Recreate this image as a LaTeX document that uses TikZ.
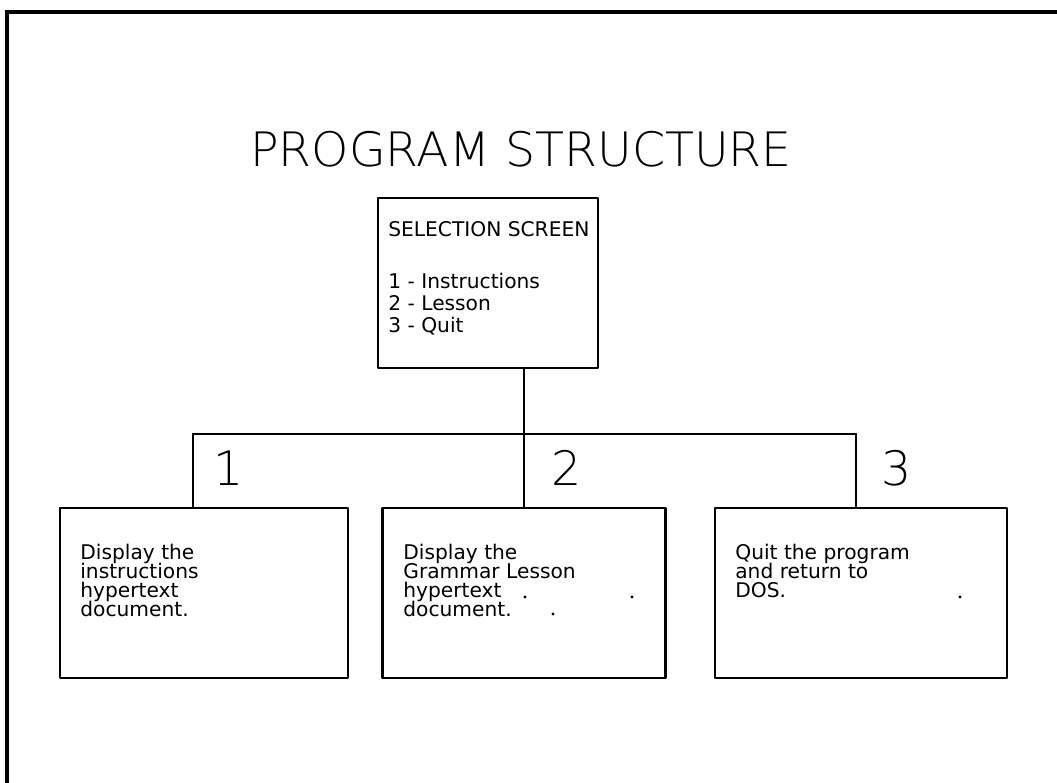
\documentclass[tikz,border=0pt]{standalone}
\usepackage{fontspec}
\setmainfont{DejaVu Sans}
\newfontfamily\thinfont{DejaVu Sans ExtraLight}
\usepackage{tikz}
\usetikzlibrary{calc}

\begin{document}
\begin{tikzpicture}[x=0.02cm, y=-0.02cm, line join=round, line cap=round,
	box/.style={draw, line width=1.4pt, minimum height=3.4cm, inner sep=0pt},
	boxtext/.style={anchor=north west, align=left, inner sep=0pt,
		font={\fontsize{11.5}{10.8}\selectfont\lineskiplimit=-\maxdimen}},
	bignum/.style={font=\thinfont\fontsize{27}{30}\selectfont},
	link/.style={line width=1.4pt}]
	
	% --- 1. 画布与外框 ---
	\useasboundingbox (0,0) rectangle (1057,782);
	\coordinate (fa) at (7,800);
	\coordinate (fb) at (7,12);
	\coordinate (fc) at (1070,12);
	\draw[line width=2pt, line join=miter] (fa) -- (fb) -- (fc);
	
	% --- 2. 标题 ---
	\node[font=\thinfont\fontsize{27}{30}\selectfont] (title) at (521,149) {PROGRAM STRUCTURE};
	
	% --- 3. 方框 ---
	% 选择画面 (竖线稍偏右, 与中间方框对齐)
	\node[box, minimum width=4.4cm] (sel) at (488,283) {};
	\node[box, minimum width=5.76cm] (opt1) at (204,593) {};
	\node[box, minimum width=5.66cm] (opt2) at (524,593) {};
	\node[box, minimum width=5.84cm] (opt3) at (861,593) {};
	
	% --- 4. 连线 ---
	\coordinate (j1) at (193,434);
	\coordinate (j3) at (856,434);
	\draw[link] (sel.south -| opt2.north) -- (opt2.north);
	\draw[link] (j1) -- (j3);
	\draw[link] (j1) -- (j1 |- opt1.north);
	\draw[link] (j3) -- (j3 |- opt3.north);
	
	% --- 5. 编号 ---
	\node[bignum] (n1) at (229,468) {1};
	\node[bignum] (n2) at (567,468) {2};
	\node[bignum] (n3) at (897,468) {3};
	
	% --- 6. 文字 ---
	\node[boxtext, font={\fontsize{11.5}{12.6}\selectfont\lineskiplimit=-\maxdimen}] (seltext) at (388,221)
		{SELECTION SCREEN\\[0.6cm] 1 - Instructions\\ 2 - Lesson\\ 3 - Quit};
	\node[boxtext] (t1) at (80,544) {Display the\\ instructions\\ hypertext\\ document.};
	\node[boxtext] (t2) at (403,544) {Display the\\ Grammar Lesson\\ hypertext\\ document.};
	\node[boxtext] (t3) at (735,544) {Quit the program\\ and return to\\ DOS.};
	
	% 扫描留下的小点
	\fill (525,597) circle (1.6);
	\fill (632,597) circle (1.6);
	\fill (553,614) circle (1.6);
	\fill (960,597) circle (1.6);
	
\end{tikzpicture}
\end{document}
